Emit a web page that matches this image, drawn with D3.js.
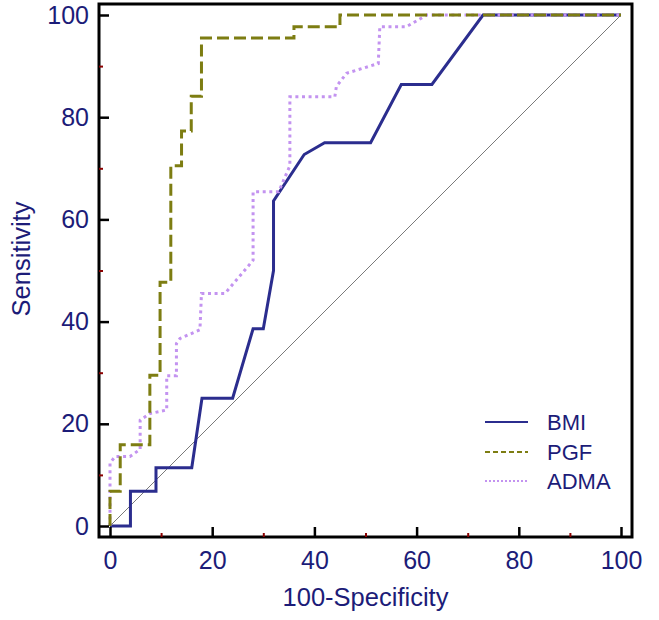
<!DOCTYPE html>
<html>
<head>
<meta charset="utf-8">
<script src="https://cdn.jsdelivr.net/npm/d3@7/dist/d3.min.js"></script>
<style>
  html, body { margin: 0; padding: 0; background: #fff; }
  svg text { font-family: Arial, "Liberation Sans", sans-serif; }
</style>
</head>
<body>
<svg id="chart" width="659" height="620"></svg>
<script>
// ---- data ----
const bmiX  = [0, 4, 4, 9, 9, 16, 18, 24, 28, 30, 32, 32, 38, 42, 51, 57, 63, 73, 100];
const bmiY  = [0, 0, 6.8, 6.8, 11.4, 11.4, 25, 25, 38.6, 38.6, 50, 63.6, 72.7, 75, 75, 86.4, 86.4, 100, 100];

const pgfX  = [0, 0, 2, 2, 7.8, 7.8, 9.8, 9.8, 11.9, 11.9, 14, 14, 15.9, 15.9, 17.9, 17.9, 36, 36, 45, 45, 100];
const pgfY  = [0, 6.8, 6.8, 15.9, 15.9, 29.5, 29.5, 47.7, 47.7, 70.5, 70.5, 77.3, 77.3, 84.1, 84.1, 95.5, 95.5, 97.7, 97.7, 100, 100];

const admaX = [0, 0, 1, 3.9, 5.9, 5.9, 7.8, 11.1, 11.1, 13, 13, 13.7, 17.6, 17.9, 22.5, 28, 28, 33, 35.2, 35.2, 44, 44.3, 46.3, 52.5, 52.8, 58, 62, 100];
const admaY = [0, 12.3, 13.6, 13.6, 15, 20.7, 22, 22.7, 29.4, 29.4, 35.7, 36.7, 38.4, 45.5, 45.5, 52, 65.4, 65.4, 70.5, 84, 84, 86, 88.6, 90.5, 97.7, 97.7, 100, 100];

const seriesNames = ["BMI", "PGF", "ADMA"];
const xTicks = [0, 20, 40, 60, 80, 100];
const yTicks = [0, 20, 40, 60, 80, 100];
const minorTicks = [10, 30, 50, 70, 90];
const xTitle = "100-Specificity";
const yTitle = "Sensitivity";

// ---- drawing ----
const svg = d3.select("#chart");
const textColor = "#1c1c78";
const frame = {left: 99, top: 4, right: 632, bottom: 537};

const x = d3.scaleLinear().domain([0, 100]).range([110, 621]);
const y = d3.scaleLinear().domain([0, 100]).range([526, 15]);

const styles = {
  BMI:  {color: "#2b2d8e", dash: null, width: 3},
  PGF:  {color: "#7d7d12", dash: "12,5", width: 3},
  ADMA: {color: "#c393f0", dash: "3,3.6", width: 3}
};

// diagonal reference
svg.append("line")
  .attr("x1", x(0)).attr("y1", y(0))
  .attr("x2", x(100)).attr("y2", y(100))
  .attr("stroke", "#7a7a7a").attr("stroke-width", 1);

const line = d3.line().x(d => x(d[0])).y(d => y(d[1]));
const data = {
  BMI: bmiX.map((v, i) => [v, bmiY[i]]),
  PGF: pgfX.map((v, i) => [v, pgfY[i]]),
  ADMA: admaX.map((v, i) => [v, admaY[i]])
};

["BMI", "ADMA", "PGF"].forEach(name => {
  const s = styles[name];
  svg.append("path")
    .datum(data[name])
    .attr("d", line)
    .attr("fill", "none")
    .attr("stroke", s.color)
    .attr("stroke-width", s.width)
    .attr("stroke-dasharray", s.dash)
    .attr("stroke-linejoin", "miter");
});

// frame
svg.append("rect")
  .attr("x", frame.left).attr("y", frame.top)
  .attr("width", frame.right - frame.left)
  .attr("height", frame.bottom - frame.top)
  .attr("fill", "none").attr("stroke", "#000").attr("stroke-width", 3);

// axes
const xAxis = svg.append("g")
  .attr("transform", `translate(0,${frame.bottom})`)
  .call(d3.axisBottom(x).tickValues(xTicks).tickSize(-10).tickPadding(14));
const yAxis = svg.append("g")
  .attr("transform", `translate(${frame.left},0)`)
  .call(d3.axisLeft(y).tickValues(yTicks).tickSize(-10).tickPadding(10));
[xAxis, yAxis].forEach(g => {
  g.select(".domain").remove();
  g.selectAll(".tick line").attr("stroke", "#000").attr("stroke-width", 2.5);
  g.selectAll(".tick text").attr("fill", textColor).style("font-size", "25px");
});

// minor ticks
svg.append("g")
  .attr("transform", `translate(0,${frame.bottom})`)
  .call(d3.axisBottom(x).tickValues(minorTicks).tickSize(-4).tickFormat(""))
  .call(g => g.select(".domain").remove())
  .selectAll(".tick line").attr("stroke", "#8b0000").attr("stroke-width", 2);
svg.append("g")
  .attr("transform", `translate(${frame.left},0)`)
  .call(d3.axisLeft(y).tickValues(minorTicks).tickSize(-4).tickFormat(""))
  .call(g => g.select(".domain").remove())
  .selectAll(".tick line").attr("stroke", "#8b0000").attr("stroke-width", 2);

// titles
svg.append("text")
  .attr("x", (x(0) + x(100)) / 2).attr("y", 606)
  .attr("text-anchor", "middle")
  .attr("fill", textColor).style("font-size", "25.5px")
  .text(xTitle);
svg.append("text")
  .attr("transform", "translate(30,259) rotate(-90)")
  .attr("text-anchor", "middle")
  .attr("fill", textColor).style("font-size", "25.5px")
  .text(yTitle);

// legend
const legendY = [422, 452, 481];
seriesNames.forEach((name, i) => {
  const s = styles[name];
  svg.append("line")
    .attr("x1", 485).attr("x2", 528)
    .attr("y1", legendY[i]).attr("y2", legendY[i])
    .attr("stroke", s.color)
    .attr("stroke-width", name === "BMI" ? 2 : 2)
    .attr("stroke-dasharray", name === "PGF" ? "5,3" : (name === "ADMA" ? "2,2" : null));
  svg.append("text")
    .attr("x", 547).attr("y", legendY[i])
    .attr("dy", "0.36em")
    .attr("fill", textColor).style("font-size", "22px")
    .text(name);
});
</script>
</body>
</html>
